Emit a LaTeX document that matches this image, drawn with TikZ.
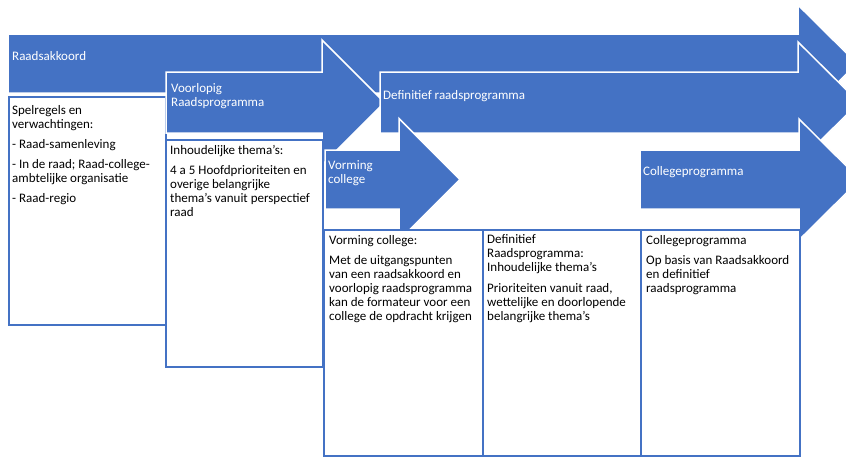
\documentclass[tikz,border=0pt]{standalone}
\usepackage{fontspec}
\setmainfont{Carlito}
\usetikzlibrary{positioning}
\definecolor{smartblue}{HTML}{4472C4}
\newcommand\smartfont{\fontsize{13}{14}\selectfont}

\begin{document}
\begin{tikzpicture}[
    x=1pt, y=-1pt,
    phase/.style={fill=smartblue, draw=white, line width=1.5pt},
    infobox/.style={rectangle, draw=smartblue, fill=white, line width=2pt, inner sep=0pt, anchor=north west},
    phaselabel/.style={text=white, font=\smartfont, align=left, inner sep=0pt},
    boxtext/.style={font=\smartfont, align=left, inner sep=0pt}
]
\clip (0,0) rectangle (846,456);

% Raadsakkoord (top row)
\draw[phase] (8,34) -- (798,34) -- (798,5) -- (857,63.5) -- (798,122) -- (798,93) -- (8,93) -- cycle;
\node[phaselabel, anchor=west] (raadsakkoord) at (12,56) {Raadsakkoord};
\node[infobox, minimum width=157, minimum height=228] (box1) at (8,96) {};
\node[boxtext, below right=9pt and 4pt of box1.north west] (text1) {Spelregels en\\verwachtingen:\\[6pt]
    - Raad-samenleving\\[6pt]
    - In de raad; Raad-college-\\ambtelijke organisatie\\[6pt]
    - Raad-regio};

% Voorlopig raadsprogramma
\draw[phase] (166,72) -- (322,72) -- (322,40) -- (384.5,102.5) -- (322,165) -- (322,133) -- (166,133) -- cycle;
\node[phaselabel, anchor=north west] (voorlopig) at (171,83) {Voorlopig\\Raadsprogramma};
\node[infobox, minimum width=157, minimum height=227] (box2) at (165,139) {};
\node[boxtext, below right=6pt and 5pt of box2.north west] (text2) {Inhoudelijke thema’s:\\[6pt]
    4 a 5 Hoofdprioriteiten en\\overige belangrijke\\thema’s vanuit perspectief\\raad};

% Definitief raadsprogramma
\draw[phase] (380,72) -- (798,72) -- (798,42) -- (859,102.5) -- (798,163) -- (798,133) -- (380,133) -- cycle;
\node[phaselabel, anchor=west] (definitief) at (383,96) {Definitief raadsprogramma};

% Vorming college
\draw[phase] (325,150) -- (399,150) -- (399,118.5) -- (460,179.5) -- (399,240.5) -- (399,209) -- (325,209) -- cycle;
\node[phaselabel, anchor=north west] (vorming) at (328,160) {Vorming\\college};
\node[infobox, minimum width=159, minimum height=226] (box3) at (323,229) {};
\node[boxtext, below right=6pt and 6pt of box3.north west] (text3) {Vorming college:\\[6pt]
    Met de uitgangspunten\\van een raadsakkoord en\\voorlopig raadsprogramma\\kan de formateur voor een\\college de opdracht krijgen};
\node[infobox, minimum width=158, minimum height=226] (box4) at (482,229) {};
\node[boxtext, below right=5pt and 5pt of box4.north west] (text4) {Definitief\\Raadsprogramma:\\Inhoudelijke thema’s\\[7pt]
    Prioriteiten vanuit raad,\\wettelijke en doorlopende\\belangrijke thema’s};

% Collegeprogramma
\draw[phase] (640,150) -- (799,150) -- (799,119) -- (860,179.5) -- (799,240) -- (799,209) -- (640,209) -- cycle;
\node[phaselabel, anchor=west] (college) at (643,172) {Collegeprogramma};
\node[infobox, minimum width=159, minimum height=226] (box5) at (640,229) {};
\node[boxtext, below right=6pt and 6pt of box5.north west] (text5) {Collegeprogramma\\[6pt]
    Op basis van Raadsakkoord\\en definitief\\raadsprogramma};

\end{tikzpicture}
\end{document}
